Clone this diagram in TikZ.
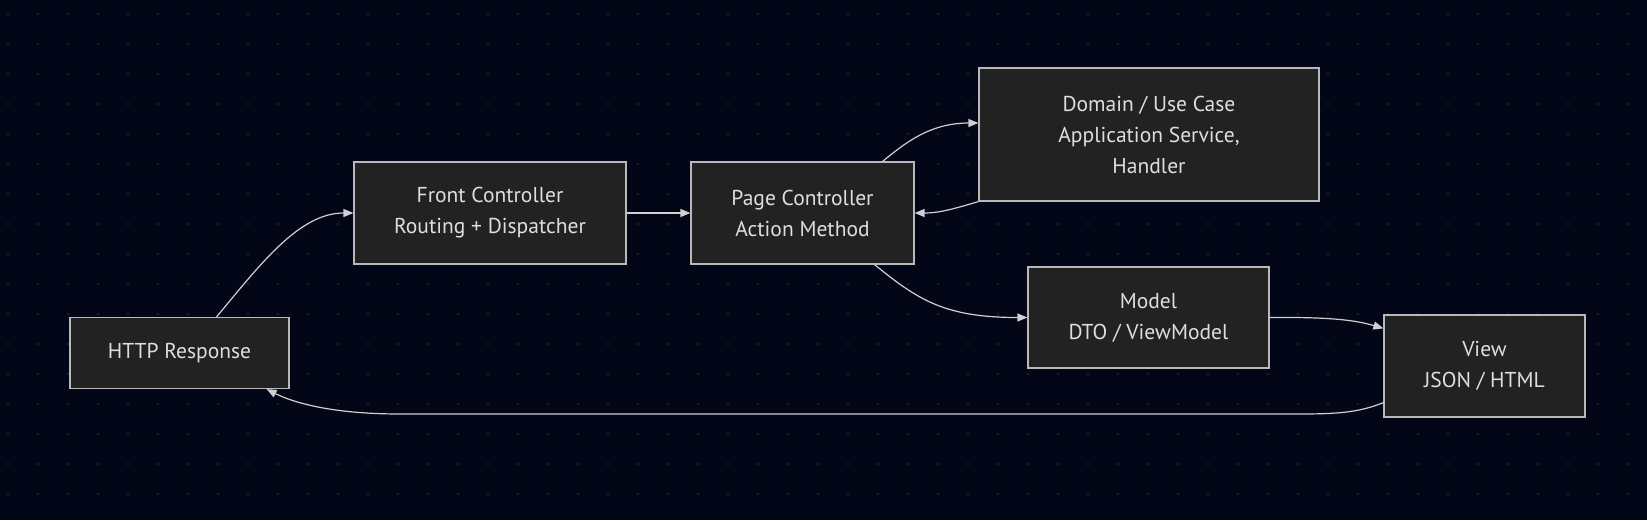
\documentclass[tikz,border=0pt]{standalone}
\usepackage{fontspec}
\setmainfont{PT Sans}
\usetikzlibrary{arrows.meta}
\definecolor{bgc}{RGB}{2,6,23}
\definecolor{dotc}{RGB}{28,31,44}
\definecolor{boxfill}{RGB}{33,34,33}
\definecolor{boxline}{RGB}{185,185,185}
\definecolor{txtc}{RGB}{222,222,222}
\definecolor{edgec}{RGB}{208,208,208}
\newlength\tmpw
\begin{document}
\settowidth{\tmpw}{\fontsize{10pt}{12pt}\selectfont Routing + Dispatcher}%
\pgfmathsetmacro\fs{10*191.7/\tmpw}%
\begin{tikzpicture}[x=1pt,y=-1pt]
\tikzset{
  box/.style={draw=boxline, fill=boxfill, line width=1.2pt, inner sep=0pt,
    align=center, text=txtc, font=\fontsize{\fs pt}{31pt}\selectfont},
  edge/.style={draw=edgec, line width=1.2pt,
    -{Triangle[length=10pt,width=8pt]}},
}
\fill[bgc] (0,0) rectangle (1647,520);
\useasboundingbox (0,0) rectangle (1647,520);
\foreach \i in {0,...,54}{
  \foreach \j in {0,...,16}{
    \fill[dotc] (8+30*\i,14+30*\j) circle (1.4);
  }
}
\node[box, minimum width=219, minimum height=71] (http) at (179.5,353) {HTTP Response};
\node[box, minimum width=272, minimum height=102] (front) at (490,213) {Front Controller\\Routing + Dispatcher};
\node[box, minimum width=223, minimum height=102] (page) at (802.5,213) {Page Controller\\Action Method};
\node[box, minimum width=340, minimum height=133] (domain) at (1149,134.5) {Domain / Use Case\\Application Service,\\Handler};
\node[box, minimum width=241, minimum height=101] (model) at (1148.5,317.5) {Model\\DTO / ViewModel};
\node[box, minimum width=201, minimum height=102] (view) at (1484.5,366) {View\\JSON / HTML};

\draw[edge] ([xshift=-73]http.north east) .. controls (262,262) and (300,213) .. (front.west);
\draw[edge] (front.east) -- (page.west);
\draw[edge] ([xshift=-32]page.north east) .. controls (905,143) and (930,123) .. ([yshift=11.5]domain.west);
\draw[edge] (domain.south west) .. controls (950,210) and (938,213) .. (page.east);
\draw[edge] ([xshift=-40]page.south east) .. controls (918,300) and (945,317.5) .. (model.west);
\draw[edge] (model.east) .. controls (1330,317) and (1355,320) .. ([yshift=-14]view.north west);
\draw[edge] ([yshift=15]view.south west) .. controls (1360,412) and (1340,414) .. (1300,414)
  -- (400,414) .. controls (330,414) and (292,402) .. ([xshift=-23]http.south east);
\end{tikzpicture}
\end{document}
